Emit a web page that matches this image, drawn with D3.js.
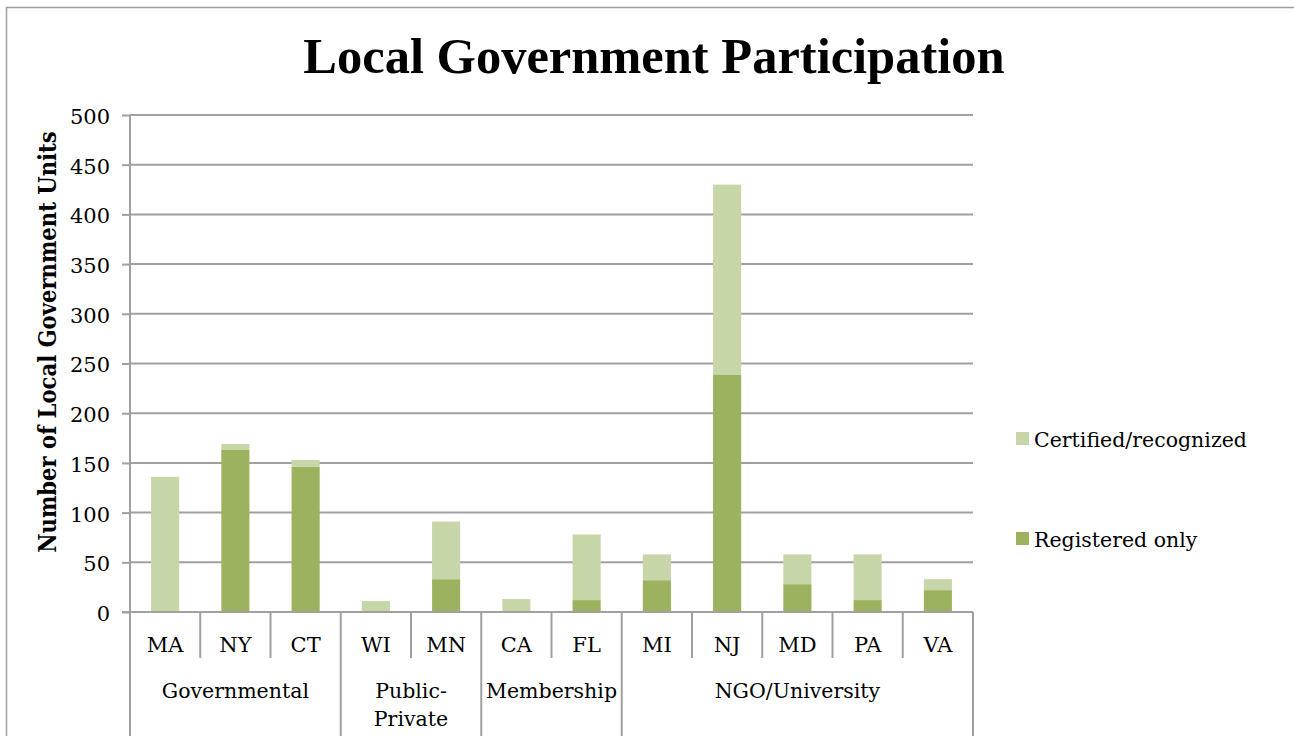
<!DOCTYPE html>
<html>
<head>
<meta charset="utf-8">
<script src="https://cdn.jsdelivr.net/npm/d3@7"></script>
<style>
  body { margin: 0; background: #fff; }
  svg { display: block; font-family: "DejaVu Serif", "Liberation Serif", serif; }
</style>
</head>
<body>
<svg width="1294" height="736"></svg>
<script>
var states = ['MA', 'NY', 'CT', 'WI', 'MN', 'CA', 'FL', 'MI', 'NJ', 'MD', 'PA', 'VA'];
var groupOf = ['Governmental', 'Governmental', 'Governmental', 'Public-Private', 'Public-Private',
               'Membership', 'Membership', 'NGO/University', 'NGO/University', 'NGO/University',
               'NGO/University', 'NGO/University'];
var registered = [0, 163, 146, 0, 33, 0, 12, 32, 239, 28, 12, 22];
var certified = [136, 6, 7, 11, 58, 13, 66, 26, 191, 30, 46, 11];
var seriesNames = ['Registered only', 'Certified/recognized'];
var yTicks = [0, 50, 100, 150, 200, 250, 300, 350, 400, 450, 500];

var colors = { 'Registered only': '#9cb25f', 'Certified/recognized': '#c7d6a9' };
var gridColor = '#a0a0a0';

var svg = d3.select('svg');
var plotLeft = 130, plotRight = 973, plotTop = 115, plotBottom = 612;

// frame round the chart
svg.append('path')
  .attr('d', 'M6.5,736 V7.5 H1294')
  .attr('fill', 'none').attr('stroke', gridColor).attr('stroke-width', 1.5);

svg.append('text')
  .text('Local Government Participation')
  .attr('x', 654).attr('y', 73)
  .attr('text-anchor', 'middle')
  .attr('font-family', '"Liberation Serif", serif')
  .attr('font-weight', 'bold')
  .attr('font-size', 50.5);

var x = d3.scaleBand().domain(states).range([plotLeft, plotRight]).paddingInner(0.6).paddingOuter(0.3);
var y = d3.scaleLinear().domain([0, 500]).range([plotBottom, plotTop]);

// gridlines + y axis
var yAxis = d3.axisLeft(y).tickValues(yTicks).tickSize(8).tickPadding(12);
var yg = svg.append('g').attr('transform', 'translate(' + plotLeft + ',0)').call(yAxis);
yg.select('.domain').remove();
yg.selectAll('.tick line').attr('stroke', gridColor).attr('stroke-width', 2);
yg.selectAll('.tick text')
  .attr('font-size', 21)
  .attr('font-family', '"DejaVu Serif", serif')
  .attr('fill', '#000')
  .attr('dy', '0.4em');

svg.append('g').selectAll('line')
  .data(yTicks.filter(function(t) { return t > 0; }))
  .enter().append('line')
    .attr('x1', plotLeft).attr('x2', plotRight)
    .attr('y1', function(t) { return y(t); }).attr('y2', function(t) { return y(t); })
    .attr('stroke', gridColor).attr('stroke-width', 2);

svg.append('line')
  .attr('x1', plotLeft).attr('x2', plotLeft).attr('y1', plotTop).attr('y2', 736)
  .attr('stroke', gridColor).attr('stroke-width', 2);

svg.append('text')
  .text('Number of Local Government Units')
  .attr('transform', 'translate(56,342) rotate(-90)')
  .attr('text-anchor', 'middle')
  .attr('font-family', '"DejaVu Serif Condensed", "DejaVu Serif", serif')
  .attr('font-weight', 'bold')
  .attr('font-size', 23.5);

// stacked bars
var rows = states.map(function(s, i) {
  return { state: s, 'Registered only': registered[i], 'Certified/recognized': certified[i] };
});
var stack = d3.stack().keys(seriesNames)(rows);

svg.append('g').selectAll('g')
  .data(stack)
  .enter().append('g')
    .attr('fill', function(d) { return colors[d.key]; })
  .selectAll('rect')
  .data(function(d) { return d; })
  .enter().append('rect')
    .attr('x', function(d) { return x(d.data.state); })
    .attr('width', x.bandwidth())
    .attr('y', function(d) { return y(d[1]); })
    .attr('height', function(d) { return y(d[0]) - y(d[1]); });

// x axis line
svg.append('line')
  .attr('x1', plotLeft - 8).attr('x2', plotRight).attr('y1', plotBottom).attr('y2', plotBottom)
  .attr('stroke', gridColor).attr('stroke-width', 2);

// category separators
var step = (plotRight - plotLeft) / states.length;
var bounds = d3.range(states.length + 1);
svg.append('g').selectAll('line')
  .data(bounds)
  .enter().append('line')
    .attr('x1', function(i) { return plotLeft + i * step; })
    .attr('x2', function(i) { return plotLeft + i * step; })
    .attr('y1', plotBottom)
    .attr('y2', function(i) {
      var isGroupEdge = i === 0 || i === states.length || groupOf[i] !== groupOf[i - 1];
      return isGroupEdge ? 736 : 658;
    })
    .attr('stroke', gridColor).attr('stroke-width', 2);

svg.append('g').selectAll('text')
  .data(states)
  .enter().append('text')
    .text(function(s) { return s; })
    .attr('x', function(s) { return x(s) + x.bandwidth() / 2; })
    .attr('y', 652)
    .attr('text-anchor', 'middle')
    .attr('font-size', 21);

// group labels
var groups = [];
groupOf.forEach(function(g, i) {
  var last = groups[groups.length - 1];
  if (last && last.name === g) { last.end = i; }
  else { groups.push({ name: g, start: i, end: i }); }
});
var groupLines = { 'Public-Private': ['Public-', 'Private'] };

var gl = svg.append('g').selectAll('text')
  .data(groups)
  .enter().append('text')
    .attr('text-anchor', 'middle')
    .attr('font-size', 20.5)
    .attr('y', 698);
gl.each(function(g) {
  var lines = groupLines[g.name] || [g.name];
  var t = d3.select(this);
  var cx = plotLeft + (g.start + g.end + 1) / 2 * step;
  lines.forEach(function(l, k) {
    t.append('tspan').attr('x', cx).attr('dy', k === 0 ? 0 : 28).text(l);
  });
});

// legend
var legend = svg.append('g').selectAll('g')
  .data(seriesNames.slice().reverse())
  .enter().append('g')
    .attr('transform', function(d, i) { return 'translate(1016,' + (432 + i * 100) + ')'; });
legend.append('rect').attr('width', 13).attr('height', 13)
  .attr('fill', function(d) { return colors[d]; });
legend.append('text')
  .text(function(d) { return d; })
  .attr('x', 18).attr('y', 15)
  .attr('font-size', 20.5);
</script>
</body>
</html>
